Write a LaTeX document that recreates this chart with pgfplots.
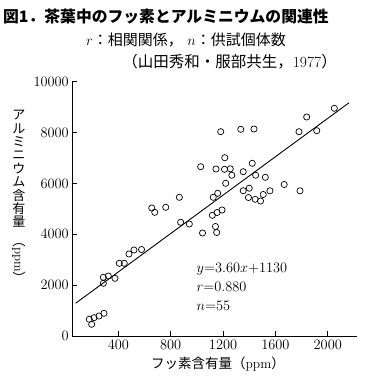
\documentclass[border=0pt]{standalone}
\usepackage{pgfplots}
\pgfplotsset{compat=1.18}
\usepackage{fontspec}
\newfontfamily\cjk{Noto Sans CJK JP}
\pgfplotstableread{
x y
178 657
196 460
214 720
252 786
290 893
285 2308
285 2072
323 2359
374 2269
407 2859
445 2859
481 3225
519 3382
577 3401
655 5033
678 4864
762 5061
866 5454
876 4471
942 4404
1043 4050
1118 4746
1154 4856
1192 4955
1142 4306
1151 4070
1125 5454
1159 5611
1220 6005
1182 8034
1335 8128
1436 8140
1780 8034
1839 8612
1916 8073
2050 8954
1029 6657
1146 6567
1211 6555
1255 6575
1267 6323
1213 7011
1354 6461
1423 6791
1449 6323
1523 6240
1667 5957
1788 5710
1354 5714
1400 5812
1558 5710
1507 5564
1486 5309
1445 5376
1394 5446
}\pts
\begin{document}
\begin{tikzpicture}[x=1pt,y=1pt]
\path[use as bounding box] (0,0) rectangle (379,381);
\begin{axis}[
  at={(72.3pt,45pt)}, anchor=south west,
  scale only axis, width=284.4pt, height=254.3pt,
  xmin=48, xmax=2221, ymin=0, ymax=10000,
  axis x line*=bottom, axis y line*=left,
  tick align=inside, major tick length=5pt,
  xtick={400,800,1200,1600,2000},
  ytick={0,2000,4000,6000,8000,10000},
  scaled ticks=false,
  /pgf/number format/1000 sep={},
  tick label style={font=\fontsize{14.5}{16}\selectfont},
  xticklabel style={yshift=-1pt},
  axis line style={line width=0.9pt},
  tick style={line width=0.8pt, black},
  clip=false,
]
\addplot[only marks, mark=o, mark size=3.1pt, mark options={line width=0.7pt}] table[x=x,y=y] {\pts};
\addplot[black, line width=0.9pt] coordinates {(74,1290) (2162,9170)};
\end{axis}
\node[anchor=west, inner sep=0pt, font=\cjk\bfseries\fontsize{15.8}{17}\selectfont] at (3,364) {図1．茶葉中のフッ素とアルミニウムの関連性};
\node[inner sep=0pt, font=\cjk\fontsize{15}{16}\selectfont] at (186,341) {$r$：相関関係，\hspace{0.3em}$n$：供試個体数};
\node[anchor=east, inner sep=0pt, font=\cjk\fontsize{15.5}{16}\selectfont] at (337,319) {（山田秀和・服部共生，{\rmfamily 1977}）};
\node[anchor=north, align=center, inner sep=0pt, font=\cjk\fontsize{13}{13.4}\selectfont] at (19,271) {ア\\ル\\ミ\\ニ\\ウ\\ム\\含\\有\\量};
\node[rotate=-90, anchor=west, inner sep=0pt, font=\cjk\fontsize{13}{14}\selectfont] at (19,147) {（{\rmfamily ppm}）};
\node[inner sep=0pt, font=\cjk\fontsize{13.5}{15}\selectfont] at (218,17) {フッ素含有量（{\rmfamily ppm}）};
\node[anchor=west, inner sep=0pt, font=\fontsize{14}{16}\selectfont] at (196.5,112) {$y{=}3.60x{+}1130$};
\node[anchor=west, inner sep=0pt, font=\fontsize{14}{16}\selectfont] at (196.5,94) {$r{=}0.880$};
\node[anchor=west, inner sep=0pt, font=\fontsize{14}{16}\selectfont] at (196.5,75) {$n{=}55$};
\end{tikzpicture}
\end{document}
